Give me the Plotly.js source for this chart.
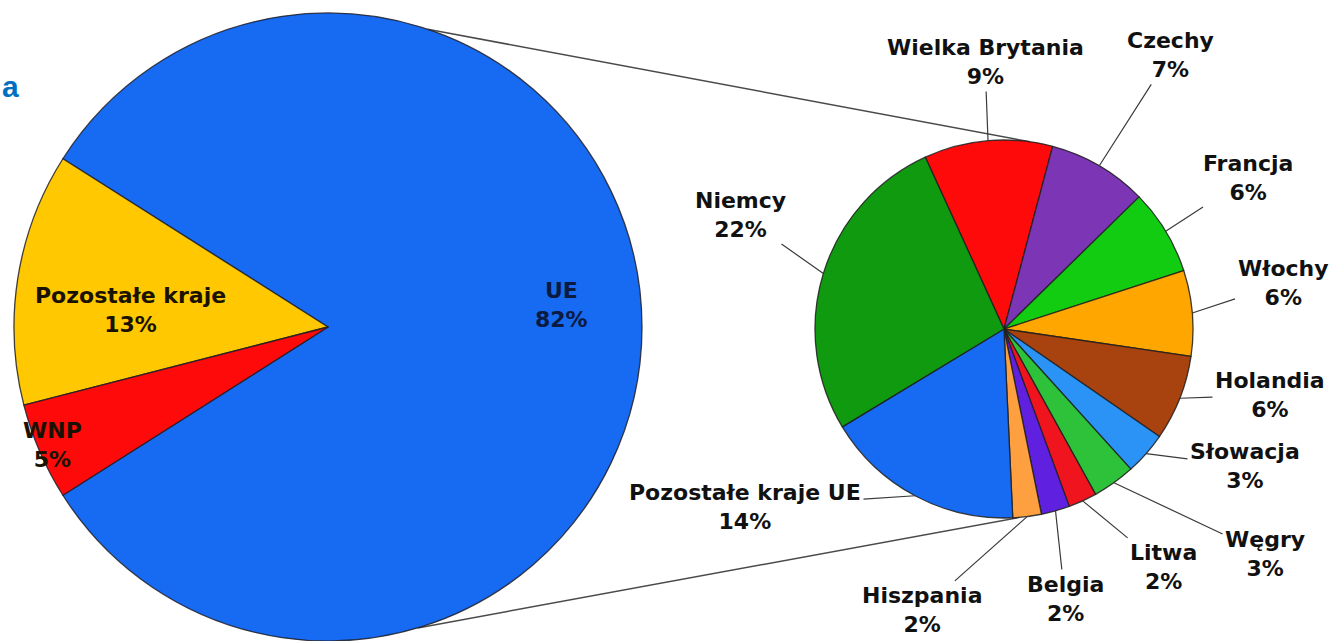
<!DOCTYPE html>
<html>
<head>
<meta charset="utf-8">
<script src="https://cdn.plot.ly/plotly-3.0.1.min.js"></script>
<style>
html, body { margin: 0; padding: 0; background: #ffffff; }
#chart { width: 1334px; height: 641px; }
</style>
</head>
<body>
<div id="chart"></div>
<script>
// ---------------- DATA ----------------
const mainLabels = ['UE', 'Pozostałe kraje', 'WNP'];
const mainValues = [82, 13, 5];

const euLabels = ['Wielka Brytania', 'Czechy', 'Francja', 'Włochy', 'Holandia', 'Słowacja',
                  'Węgry', 'Litwa', 'Belgia', 'Hiszpania', 'Pozostałe kraje UE', 'Niemcy'];
const euValues = [9, 7, 6, 6, 6, 3, 3, 2, 2, 2, 14, 22];

const titleFragment = 'a';

// ---------------- STYLE / LAYOUT CONFIG ----------------
const W = 1334, H = 641;
const mainColors = ['#176AF2', '#FFC800', '#FF0A0A'];
const euColors = ['#FF0A0A', '#7B35B5', '#12CC12', '#FFA600', '#A8420E', '#2A93F5',
                  '#2EC23A', '#F0141E', '#6020E0', '#FFA040', '#176AF2', '#109A10'];

const mainGeom = { cx: 328, cy: 327, r: 314, rotation: -57.6, direction: 'counterclockwise' };
const euGeom = { cx: 1004, cy: 329, r: 189, rotation: -24.6, direction: 'clockwise' };

// label text centres (pixels)
const mainLabelPos = [[561, 305], [130, 310], [52, 445]];
const euLabelPos = [[985, 62], [1170, 55], [1248, 178], [1283, 283], [1270, 395], [1245, 466],
                    [1265, 554], [1163, 567], [1065, 599], [922, 610], [745, 507], [740, 215]];

// connector lines between the pies: [angle on big pie, angle on small pie] (deg, clockwise from 12)
const connectorAngles = [[18.5, 7.9], [163.4, 175.2]];

const labelFont = { family: 'DejaVu Sans, Verdana, sans-serif', size: 22, color: '#111111', weight: 'bold' };

// ---------------- HELPERS ----------------
function domainOf(g) {
  return {
    x: [(g.cx - g.r) / W, (g.cx + g.r) / W],
    y: [Math.max(0, 1 - (g.cy + g.r) / H), Math.min(1, 1 - (g.cy - g.r) / H)]
  };
}
function midAngles(values, rotation, direction) {
  const tot = values.reduce((a, b) => a + b, 0);
  const dir = direction === 'clockwise' ? 1 : -1;
  const out = [];
  let a = rotation;
  if (dir === -1) { a = rotation + values[0] / tot * 360; }
  values.forEach(v => {
    const span = v / tot * 360;
    out.push(a + dir * span / 2);
    a += dir * span;
  });
  return out;
}
function edgePoint(g, deg, rr) {
  const t = deg * Math.PI / 180;
  const R = rr === undefined ? g.r : rr;
  return [g.cx + R * Math.sin(t), g.cy - R * Math.cos(t)];
}
const px = x => x / W;
const py = y => 1 - y / H;

// ---------------- TRACES ----------------
const mainTrace = {
  type: 'pie',
  labels: mainLabels,
  values: mainValues,
  sort: false,
  direction: mainGeom.direction,
  rotation: mainGeom.rotation,
  domain: domainOf(mainGeom),
  marker: { colors: mainColors, line: { color: 'rgba(30,30,40,0.85)', width: 1.3 } },
  textinfo: 'none',
  hoverinfo: 'none',
  showlegend: false
};

const euTrace = {
  type: 'pie',
  labels: euLabels,
  values: euValues,
  sort: false,
  direction: euGeom.direction,
  rotation: euGeom.rotation,
  domain: domainOf(euGeom),
  marker: { colors: euColors, line: { color: 'rgba(30,30,30,0.85)', width: 1.3 } },
  textinfo: 'none',
  hoverinfo: 'none',
  showlegend: false
};

// ---------------- ANNOTATIONS ----------------
const annotations = [];
const totalMain = mainValues.reduce((a, b) => a + b, 0);

mainLabels.forEach((lab, i) => {
  annotations.push({
    xref: 'paper', yref: 'paper',
    x: px(mainLabelPos[i][0]), y: py(mainLabelPos[i][1]),
    xanchor: 'center', yanchor: 'middle',
    text: lab + '<br>' + Math.round(mainValues[i] / totalMain * 100) + '%',
    showarrow: false,
    align: 'center',
    font: Object.assign({}, labelFont, { color: i === 0 ? '#0B1A40' : '#1a1200' })
  });
});

const euMids = midAngles(euValues, euGeom.rotation, euGeom.direction);
euLabels.forEach((lab, i) => {
  const p = edgePoint(euGeom, euMids[i]);
  annotations.push({
    xref: 'paper', yref: 'paper',
    x: px(p[0]), y: py(p[1]),
    ax: euLabelPos[i][0] - p[0],
    ay: euLabelPos[i][1] - p[1],
    axref: 'pixel', ayref: 'pixel',
    text: lab + '<br>' + euValues[i] + '%',
    showarrow: true,
    arrowhead: 0,
    arrowwidth: 1.2,
    arrowcolor: '#3a3a3a',
    standoff: 0,
    startstandoff: 1,
    align: 'center',
    font: labelFont
  });
});

annotations.push({
  xref: 'paper', yref: 'paper',
  x: px(0), y: py(86),
  xanchor: 'left', yanchor: 'middle',
  text: titleFragment,
  showarrow: false,
  font: { family: 'Liberation Sans, Arial, sans-serif', size: 30, color: '#0070C0', weight: 'bold' }
});

// ---------------- CONNECTOR SHAPES ----------------
const shapes = connectorAngles.map(([a1, a2]) => {
  const p1 = edgePoint(mainGeom, a1);
  const p2 = edgePoint(euGeom, a2);
  return {
    type: 'line', xref: 'paper', yref: 'paper', layer: 'below',
    x0: px(p1[0]), y0: py(p1[1]), x1: px(p2[0]), y1: py(p2[1]),
    line: { color: '#4a4a4a', width: 1.5 }
  };
});

const layout = {
  width: W, height: H,
  margin: { l: 0, r: 0, t: 0, b: 0, pad: 0 },
  paper_bgcolor: '#ffffff',
  plot_bgcolor: '#ffffff',
  showlegend: false,
  annotations: annotations,
  shapes: shapes
};

Plotly.newPlot('chart', [mainTrace, euTrace], layout, { staticPlot: true, displayModeBar: false });
</script>
</body>
</html>
